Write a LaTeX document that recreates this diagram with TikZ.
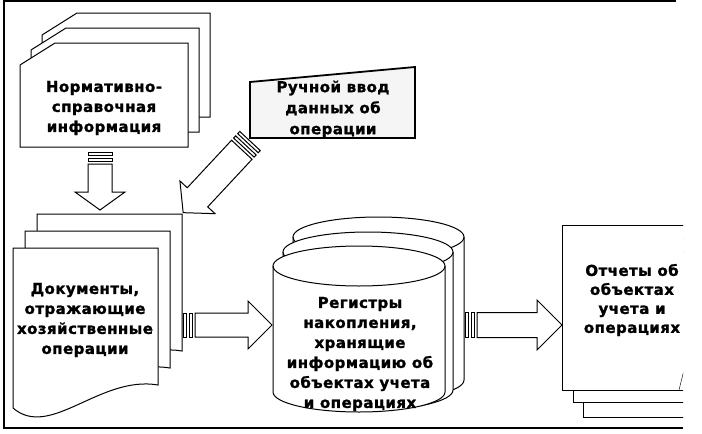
\documentclass[tikz,border=0pt]{standalone}
\usepackage{fontspec}
\setmainfont{DejaVu Sans}[BoldFeatures={FakeBold=1.3}, LetterSpace=3]
\usetikzlibrary{calc}

\tikzset{
    boxtext/.style={font=\bfseries\fontsize{15}{20}\selectfont, align=center, inner sep=0},
    sheet/.style={draw, fill=white, line width=1pt},
}

% card with cut corner, left and top edge given
\newcommand{\cardsheet}[2]{%
    \draw[sheet] (#1,#2+22) -- (#1+35,#2) -- (#1+168,#2) -- (#1+168,#2+104) -- (#1,#2+104) -- cycle;}
% document with wavy bottom
\newcommand{\wavesheet}[2]{%
    \draw[sheet] (#1,#2) -- (#1+145,#2) -- (#1+145,#2+137) .. controls (#1+87,#2+127) and (#1+37,#2+192) .. (#1,#2+160) -- cycle;}
% drum: centre x, x radius, top y, bottom y, y radius
\newcommand{\drum}[5]{%
    \fill[white] (#1-#2,#3) -- (#1-#2,#4) arc[start angle=180, end angle=360, x radius=#2pt, y radius=#5pt] -- (#1+#2,#3) arc[start angle=0, end angle=180, x radius=#2pt, y radius=#5pt] -- cycle;
    \draw[line width=1pt] (#1-#2,#3) -- (#1-#2,#4) arc[start angle=180, end angle=360, x radius=#2pt, y radius=#5pt] -- (#1+#2,#3);
    \draw[line width=1pt] (#1,#3) ellipse[x radius=#2pt, y radius=#5pt];}
% striped block arrow: tail, angle, length, head base, shaft half width, head half width
\newcommand{\stripedarrow}[6]{%
    \begin{scope}[shift={#1}, rotate=#2]
        \draw[sheet] (0,-#5) rectangle (3,#5);
        \draw[sheet] (6,-#5) rectangle (9,#5);
        \draw[sheet] (12,-#5) -- (#4,-#5) -- (#4,-#6) -- (#3,0) -- (#4,#6) -- (#4,#5) -- (12,#5) -- cycle;
    \end{scope}}

\begin{document}
\begin{tikzpicture}[x=1pt, y=-1pt]
    \useasboundingbox (0,0) rectangle (702,434);
    \draw[line width=1.5pt] (676,1) -- (4,1) -- (4,428) -- (683,428);

    % reference information
    \cardsheet{42}{13}
    \cardsheet{31}{28}
    \cardsheet{20}{43}
    \node[boxtext] (nsi) at (104,108) {Нормативно-\\справочная\\информация};

    % manual input
    \draw[line width=1.8pt, fill=black!4] (250,82) -- (415,67) -- (415,138) -- (250,138) -- cycle;
    \node[boxtext, font=\bfseries\fontsize{15}{21}\selectfont] (manual) at (333,109) {Ручной ввод\\данных об\\операции};

    % source documents
    \wavesheet{37}{214}
    \wavesheet{25}{231}
    \wavesheet{13}{248}
    \node[boxtext] (docs) at (85,320) {Документы,\\отражающие\\хозяйственные\\операции};

    % registers
    \drum{378.5}{85.5}{237}{380}{20}
    \drum{368}{85}{252}{390}{20}
    \drum{359}{86}{266}{392}{20}
    \node[boxtext] (regs) at (360,354) {Регистры\\накопления,\\хранящие\\информацию об\\объектах учета\\и операциях};

    % reports
    \begin{scope}
        \clip (0,0) rectangle (683,434);
        \draw[sheet] (583,252) rectangle (720,417);
        \draw[sheet] (573,238) rectangle (710,402);
        \draw[sheet] (562,225) rectangle (700,390);
        \draw (679,390) -- (684,370);
    \end{scope}
    \node[boxtext, font=\bfseries\fontsize{15}{19}\selectfont] (reps) at (632,300) {Отчеты об\\объектах\\учета и\\операциях};

    % arrows
    \stripedarrow{(100,152)}{-90}{58}{40}{12}{25}
    \stripedarrow{(250,141)}{227}{98}{77}{14}{24}
    \stripedarrow{(183,325)}{0}{89}{65}{12}{24}
    \stripedarrow{(465,325)}{0}{97}{72}{12.5}{25}
\end{tikzpicture}
\end{document}
